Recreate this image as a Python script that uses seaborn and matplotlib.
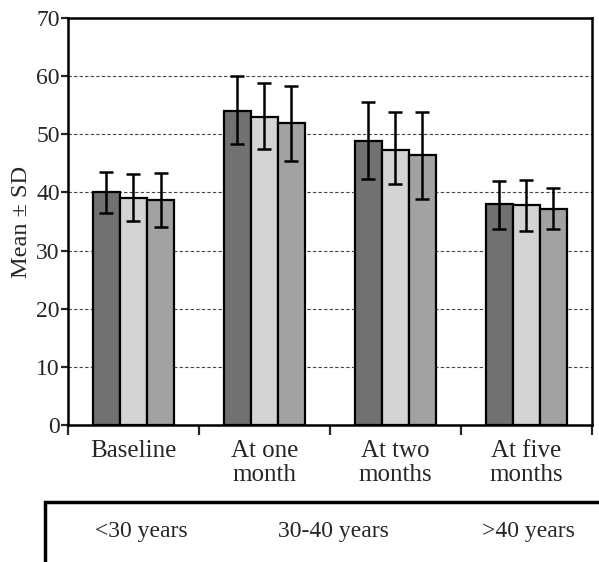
#!/usr/bin/env python3
import numpy as np
import pandas as pd
import seaborn as sns
import matplotlib.pyplot as plt
from matplotlib.patches import Rectangle

# ---------- Data ----------
periods = ["Baseline", "At one\nmonth", "At two\nmonths", "At five\nmonths"]
age_groups = ["<30 years", "30-40 years", ">40 years"]

means_lt30 = [40.0, 54.1, 48.8, 38.0]
means_30_40 = [39.1, 52.9, 47.3, 37.9]
means_gt40 = [38.7, 51.9, 46.5, 37.2]

upper_lt30 = [43.5, 60.1, 55.6, 42.0]
upper_30_40 = [43.1, 58.8, 53.8, 42.1]
upper_gt40 = [43.3, 58.4, 53.9, 40.8]

lower_lt30 = [36.5, 48.3, 42.3, 33.7]
lower_30_40 = [35.1, 47.5, 41.5, 33.4]
lower_gt40 = [34.1, 45.4, 38.8, 33.8]

colors = ["#717171", "#d4d4d4", "#a2a2a2"]

means = [means_lt30, means_30_40, means_gt40]
uppers = [upper_lt30, upper_30_40, upper_gt40]
lowers = [lower_lt30, lower_30_40, lower_gt40]

rows = []
for g, m in zip(age_groups, means):
    for p, v in zip(periods, m):
        rows.append({"period": p, "age": g, "mean": v})
df = pd.DataFrame(rows)

# ---------- Plot ----------
sns.set_style("white")
plt.rcParams["font.family"] = ["Liberation Serif", "DejaVu Serif"]

fig = plt.figure(figsize=(5.99, 5.62), dpi=100)
ax = fig.add_axes([0.1135, 0.2438, 0.8745, 0.724])

sns.barplot(data=df, x="period", y="mean", hue="age", order=periods,
            hue_order=age_groups, palette=colors, width=0.62, gap=0,
            errorbar=None, edgecolor="black", linewidth=1.6, legend=False,
            ax=ax, zorder=3)

# error bars on top of each bar
for cont, m, up, lo in zip(ax.containers, means, uppers, lowers):
    xs = [b.get_x() + b.get_width() / 2 for b in cont]
    m = np.array(m)
    yerr = [m - np.array(lo), np.array(up) - m]
    ax.errorbar(xs, m, yerr=yerr, fmt="none", ecolor="black",
                elinewidth=1.8, capsize=5, capthick=1.8, zorder=4)

ax.set_ylim(0, 70)
ax.set_xlim(-0.5, 3.5)
ax.set_yticks(range(0, 71, 10))
ax.yaxis.grid(True, linestyle=(0, (3, 2)), color="#444444", linewidth=0.8)
ax.xaxis.grid(False)
ax.set_axisbelow(True)

# category separators as major ticks, labels on minor ticks
ax.set_xticks(np.arange(-0.5, 4.0, 1.0))
ax.set_xticklabels([])
ax.set_xticks(range(len(periods)), minor=True)
ax.set_xticklabels(periods, minor=True, fontsize=18, linespacing=1.12)
ax.tick_params(axis="x", which="major", direction="out", length=7, width=1.6,
               bottom=True)
ax.tick_params(axis="x", which="minor", length=0, pad=11)
ax.tick_params(axis="y", direction="out", length=5, width=1.6, left=True,
               labelsize=17, pad=1)

for s in ax.spines.values():
    s.set_visible(True)
    s.set_color("black")
    s.set_linewidth(1.8)

ax.set_xlabel("")
ax.set_ylabel("Mean \u00b1 SD", fontsize=17.5, labelpad=3)

# legend strip: labels only, boxed
fig.patches.append(Rectangle((0.075, -0.02), 1.0, 0.127, transform=fig.transFigure,
                             fill=False, edgecolor="black", linewidth=2.5))
for label, xc in zip(age_groups, [0.236, 0.556, 0.882]):
    fig.text(xc, 0.054, label, ha="center", va="center", fontsize=17)

fig.savefig("out.png", dpi=100)
